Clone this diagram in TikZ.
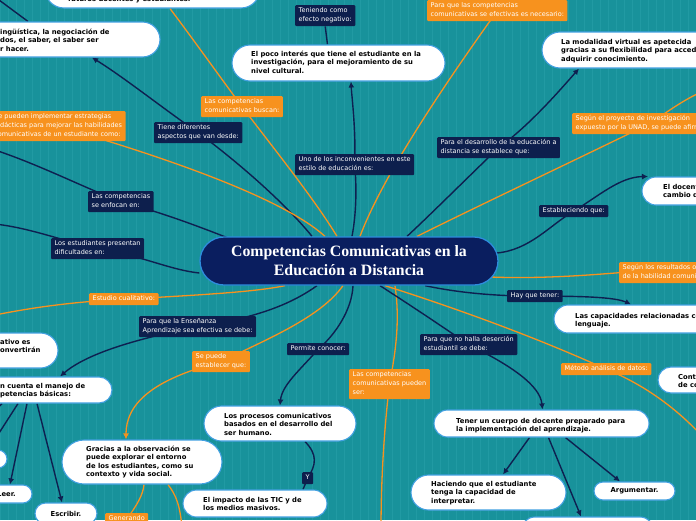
\documentclass[tikz,border=0pt]{standalone}
\usepackage{fontspec}
\setmainfont{DejaVu Sans}
\newfontfamily\ttlfont{Liberation Serif}
\usetikzlibrary{shapes.misc,arrows.meta,calc}
\definecolor{bgteal}{RGB}{24,146,155}
\definecolor{gridc}{RGB}{33,154,163}
\definecolor{mmnavy}{RGB}{13,31,77}
\definecolor{cnavy}{RGB}{10,30,95}
\definecolor{mmorange}{RGB}{247,146,30}
\definecolor{pillblue}{RGB}{66,160,225}
\definecolor{cborder}{RGB}{45,140,220}
\definecolor{linenavy}{RGB}{14,32,80}
\newcommand\pfont{\fontsize{6.8}{8.6}\selectfont\bfseries}
\newcommand\lfont{\fontsize{6.5}{9}\selectfont}
\newcommand\pstr{\rule{0pt}{6.5pt}}
\newcommand\lstr{\rule{0pt}{5.5pt}}
\newcommand\lend{\rule[-2.5pt]{0pt}{2.5pt}}
\pgfdeclarelayer{bg}
\pgfsetlayers{bg,main}
\tikzset{
  pill/.style={rounded rectangle, draw=pillblue, line width=1.1pt, fill=white, inner sep=0pt, font=\pfont, text=black},
  ptxt/.style={anchor=north west, inner sep=0pt, align=left, font=\pfont, text=black},
  lbl/.style={anchor=north west, inner xsep=3.5pt, inner ysep=2pt, align=left, font=\lfont, text=white, rounded corners=1pt},
  nlbl/.style={lbl, fill=mmnavy},
  olbl/.style={lbl, fill=mmorange},
  nv/.style={draw=linenavy, line width=1.4pt},
  og/.style={draw=mmorange, line width=1.3pt},
  arr/.style={-{Latex[length=6pt,width=6pt]}},
}
\begin{document}
\begin{tikzpicture}[x=1pt,y=-1pt]
\useasboundingbox (0,0) rectangle (696,520);
\begin{pgfonlayer}{bg}
\fill[bgteal] (0,0) rectangle (696,520);
\draw[gridc, line width=0.4pt, step=8] (0,0) grid (696,520);
\end{pgfonlayer}
\clip (0,0) rectangle (696,520);

% central node
\node[draw=cborder, line width=1.3pt, fill=cnavy, rounded rectangle, minimum width=298pt, minimum height=48pt, inner sep=0pt, align=center, text=white, font=\ttlfont\bfseries\fontsize{15.8}{19}\selectfont] (c) at (349,261) {Competencias Comunicativas en la\\Educación a Distancia};

% pills
\node[pill, minimum width=215pt, minimum height=38pt] (P1) at (152.5,-11) {};
\node[pill, minimum width=220pt, minimum height=35pt] (P2) at (50,39.5) {};
\node[pill, minimum width=213pt, minimum height=36pt] (P3) at (338.5,63) {};
\node[pill, minimum width=178pt, minimum height=36pt] (P4) at (631,50) {};
\node[pill, minimum width=78pt, minimum height=28pt] (P5) at (681,191) {};
\node[pill, minimum width=166pt, minimum height=28pt] (P6) at (637,319) {};
\node[pill, minimum width=62pt, minimum height=26pt] (P7) at (689,380) {};
\node[pill, minimum width=215pt, minimum height=27pt] (P8) at (541.5,423.5) {};
\node[pill, minimum width=155pt, minimum height=35pt] (P9) at (488.5,492.5) {};
\node[pill, minimum width=81pt, minimum height=18pt] (P10) at (634.5,491) {Argumentar.};
\node[pill, minimum width=133pt, minimum height=28pt] (P11) at (587.5,531) {};
\node[pill, minimum width=152pt, minimum height=35pt] (P12) at (280,423.5) {};
\node[pill, minimum width=144pt, minimum height=27pt] (P13) at (255,503.5) {};
\node[pill, minimum width=160pt, minimum height=44pt] (P14) at (142,462) {};
\node[pill, minimum width=62pt, minimum height=21pt] (P15) at (66,513.5) {Escribir.};
\node[pill, minimum width=42pt, minimum height=18pt] (P16) at (11,494) {};
\node[pill, minimum width=37pt, minimum height=18pt] (P17) at (-11.5,459) {};
\node[pill, minimum width=172pt, minimum height=26pt] (P18) at (26,390) {};
\node[pill, minimum width=118pt, minimum height=35pt] (P19) at (-1,350.5) {};

% pill texts
\node[ptxt] (T1) at (68,-5) {\pstr futuros docentes y estudiantes.};
\node[ptxt] (T2) at (0,27.4) {\pstr ingüística, la negociación de\\dos, el saber, el saber ser\\r hacer.};
\node[ptxt] (T3) at (251,49.4) {\pstr El poco interés que tiene el estudiante en la\\investigación, para el mejoramiento de su\\nivel cultural.};
\node[ptxt] (T4) at (561,37.4) {\pstr La modalidad virtual es apetecida\\gracias a su flexibilidad para acceder\\adquirir conocimiento.};
\node[ptxt] (T5) at (663,182.4) {\pstr El docente\\cambio de};
\node[ptxt] (T6) at (575,311.4) {\pstr Las capacidades relacionadas con el\\lenguaje.};
\node[ptxt] (T7) at (678,372.4) {\pstr Contexto\\de comunicación};
\node[ptxt] (T8) at (456,416.4) {\pstr Tener un cuerpo de docente preparado para\\la implementación del aprendizaje.};
\node[ptxt] (T9) at (431,479.4) {\pstr Haciendo que el estudiante\\tenga la capacidad de\\interpretar.};
\node[ptxt] (T12) at (224,411.4) {\pstr Los procesos comunicativos\\basados en el desarrollo del\\ser humano.};
\node[ptxt] (T13) at (203,495.4) {\pstr El impacto de las TIC y de\\los medios masivos.};
\node[ptxt] (T14) at (86,444.4) {\pstr Gracias a la observación se\\puede explorar el entorno\\de los estudiantes, como su\\contexto y vida social.};
\node[font=\pfont, inner sep=0pt] (T16) at (6.5,494.5) {Leer.};
\node[ptxt] (T18) at (0,381.4) {\pstr n cuenta el manejo de\\petencias básicas:};
\node[ptxt] (T19) at (0,337.4) {\pstr ativo es\\onvertirán};

% navy labels
\node[nlbl] (L_ten) at (295,5) {\lstr Teniendo como\\efecto negativo:\lend};
\node[nlbl] (L_tiene) at (154,122) {\lstr Tiene diferentes\\aspectos que van desde:\lend};
\node[nlbl] (L_uno) at (295,154) {\lstr Uno de los inconvenientes en este\\estilo de educación es:\lend};
\node[nlbl] (L_des) at (437,137) {\lstr Para el desarrollo de la educación a\\distancia se establece que:\lend};
\node[nlbl] (L_enf) at (88,191) {\lstr Las competencias\\se enfocan en:\lend};
\node[nlbl] (L_pres) at (51,238) {\lstr Los estudiantes presentan\\dificultades en:\lend};
\node[nlbl] (L_sta) at (539,205) {\lstr Estableciendo que:\lend};
\node[nlbl] (L_hay) at (507,290) {\lstr Hay que tener:\lend};
\node[nlbl] (L_ens) at (139,316) {\lstr Para que la Enseñanza\\Aprendizaje sea efectiva se debe:\lend};
\node[nlbl] (L_per) at (287,343) {\lstr Permite conocer:\lend};
\node[nlbl] (L_hal) at (420,334) {\lstr Para que no halla deserción\\estudiantil se debe:\lend};
\node[nlbl] (L_y) at (302,472) {\lstr Y\lend};

% orange labels
\node[olbl] (L_bus) at (201,96) {\lstr Las competencias\\comunicativas buscan:\lend};
\node[olbl] (L_pue) at (-9.5,111) {\lstr Se pueden implementar estrategias\\didácticas para mejorar las habilidades\\comunicativas de un estudiante como:\lend};
\node[olbl] (L_pq) at (427,0) {\lstr Para que las competencias\\comunicativas se efectivas es necesario:\lend};
\node[olbl] (L_pro) at (572,113) {\lstr Según el proyecto de investigación\\expuesto por la UNAD, se puede afirmar que:\lend};
\node[olbl] (L_res) at (619,262) {\lstr Según los resultados obtenidos\\de la habilidad comunicativa:\lend};
\node[olbl] (L_est) at (89,293) {\lstr Estudio cualitativo:\lend};
\node[olbl] (L_sep) at (192,351) {\lstr Se puede\\establecer que:\lend};
\node[olbl] (L_pser) at (349,369) {\lstr Las competencias\\comunicativas pueden\\ser:\lend};
\node[olbl] (L_met) at (561,363) {\lstr Método análisis de datos:\lend};
\node[olbl] (L_gen) at (105,513) {\lstr Generando\lend};

% free ends
\coordinate (e_i) at (-5,150);
\coordinate (e_j) at (-5,224);
\coordinate (e_o8) at (-5,315);
\coordinate (e_o6) at (381,530);
\coordinate (e_o5) at (710,445);
\coordinate (e_o3) at (712,88);
\coordinate (e_tl) at (-5,-3);
\coordinate (e_p14b) at (182,528);
\coordinate (e_p18d) at (-6,412);

\begin{pgfonlayer}{bg}
% upper left branches
\draw[nv] ([xshift=-37pt]c.north) .. controls (295,215) and (255,175) .. (L_tiene.center);
\draw[nv,arr] (L_tiene.center) .. controls (165,110) and (125,78) .. ([xshift=42pt]P2.south);
\draw[nv] ([xshift=-120pt,yshift=-2pt]c.north) .. controls (195,225) and (160,212) .. (L_enf.center);
\draw[nv] (L_enf.center) .. controls (85,188) and (40,165) .. (e_i);
\draw[nv] ([yshift=-12pt]c.west) .. controls (170,270) and (140,255) .. (L_pres.center);
\draw[nv] (L_pres.center) .. controls (60,240) and (30,228) .. (e_j);
\draw[og] ([xshift=-64pt]c.south) .. controls (255,292) and (200,295) .. (L_est.center);
\draw[og] (L_est.center) .. controls (70,302) and (30,308) .. (e_o8);
\draw[og] ([xshift=-12pt]c.north) .. controls (315,200) and (275,150) .. (L_bus.center);
\draw[og] (L_bus.center) .. controls (215,70) and (190,35) .. ([xshift=17.5pt]P1.south);
\draw[og] ([xshift=-24pt]c.north) .. controls (285,200) and (175,160) .. (L_pue.center);
% lower left branches
\draw[nv] ([xshift=-32pt]c.south) .. controls (290,305) and (255,318) .. (L_ens.center);
\draw[nv,arr] (L_ens.center) .. controls (130,340) and (85,355) .. ([xshift=34pt]P18.north);
\draw[og] ([xshift=-6pt]c.south) .. controls (320,318) and (265,340) .. (L_sep.center);
\draw[og,arr] (L_sep.center) .. controls (150,380) and (126,405) .. ([xshift=-16pt]P14.north);
\draw[nv] ([xshift=4pt]c.south) .. controls (352,310) and (335,335) .. (L_per.center);
\draw[nv,arr] (L_per.center) .. controls (300,370) and (282,385) .. (P12.north);
\draw[og] ([xshift=46pt]c.south) .. controls (400,320) and (396,350) .. (L_pser.center);
\draw[og] (L_pser.center) .. controls (384,430) and (381,480) .. (e_o6);
% lower right branches
\draw[nv] ([xshift=31pt]c.south) .. controls (410,305) and (440,325) .. (L_hal.center);
\draw[nv,arr] (L_hal.center) .. controls (510,365) and (540,385) .. ([xshift=1pt]P8.north);
\draw[og] ([xshift=36pt]c.south) .. controls (430,300) and (520,330) .. (L_met.center);
\draw[og] (L_met.center) .. controls (645,385) and (680,410) .. (e_o5);
\draw[nv] ([xshift=76pt]c.south) .. controls (455,292) and (490,296) .. (L_hay.center);
\draw[nv,arr] (L_hay.center) .. controls (580,296) and (615,297) .. ([xshift=-6pt]P6.north);
\draw[og] ([xshift=-8pt,yshift=-16pt]c.east) .. controls (540,279) and (590,275) .. (L_res.west);
% upper right branches
\draw[nv] ([xshift=-2pt,yshift=8pt]c.east) .. controls (530,250) and (550,225) .. (L_sta.center);
\draw[nv,arr] (L_sta.center) .. controls (600,195) and (620,177) .. ([xshift=-33pt]P5.north);
\draw[nv] ([xshift=58pt]c.north) .. controls (430,215) and (460,185) .. (L_des.center);
\draw[nv,arr] (L_des.center) .. controls (530,125) and (560,90) .. ([xshift=-52pt]P4.south);
\draw[og] ([xshift=68pt]c.north) .. controls (480,205) and (565,165) .. (L_pro.center);
\draw[og] (L_pro.center) .. controls (670,110) and (690,95) .. (e_o3);
\draw[nv] ([xshift=3pt]c.north) .. controls (356,215) and (357,190) .. (L_uno.center);
\draw[nv,arr] (L_uno.center) .. controls (356,130) and (352,100) .. ([xshift=12.5pt]P3.south);
\draw[og] ([xshift=11pt]c.north) .. controls (385,170) and (455,70) .. (L_pq.center);
% secondary connectors
\draw[nv] (L_ten.south) -- ([xshift=-11pt]P3.north);
\draw[nv] (e_tl) -- ([xshift=-22pt]P2.north);
\draw[nv] ([xshift=25pt]P12.south) .. controls (318,455) and (316,465) .. (L_y.center);
\draw[nv] (L_y.center) -- ([xshift=48pt]P13.north);
\draw[og] ([xshift=2pt]P14.south) .. controls (143,495) and (137,505) .. (L_gen.center);
\draw[og] ([xshift=26pt]P14.south) .. controls (176,495) and (180,505) .. (e_p14b);
\draw[nv,arr] ([xshift=11pt]P18.south) -- ([xshift=-4pt]P15.north);
\draw[nv,arr] ([xshift=1pt]P18.south) -- ([xshift=-1pt]P16.north);
\draw[nv,arr] ([xshift=-8pt]P18.south) -- (P17.north);
\draw[nv] ([xshift=-24pt]P18.south) -- (e_p18d);
\draw[nv,arr] ([xshift=-12pt]P8.south) -- ([xshift=14.5pt]P9.north);
\draw[nv,arr] ([xshift=7pt]P8.south) -- ([xshift=-6.5pt]P11.north);
\draw[nv,arr] ([xshift=24pt]P8.south) -- ([xshift=-14.5pt]P10.north);
\end{pgfonlayer}
\end{tikzpicture}
\end{document}
